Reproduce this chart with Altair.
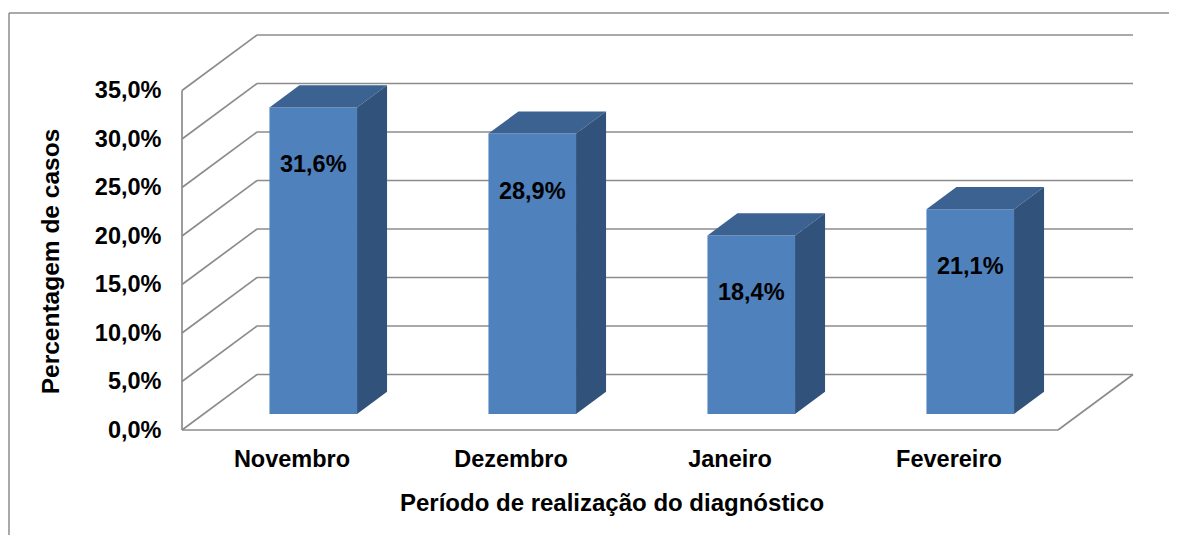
import json
import altair as alt
import pandas as pd

# ---------------- data ----------------
categories = ["Novembro", "Dezembro", "Janeiro", "Fevereiro"]
values = [31.6, 28.9, 18.4, 21.1]
y_ticks = [0, 5, 10, 15, 20, 25, 30, 35]
x_title = "Período de realização do diagnóstico"
y_title = "Percentagem de casos"

# ---------------- geometry of the pseudo-3D box ----------------
PX_CAT = 219.0        # pixels per category band (front plane)
PX_PCT = 9.7          # pixels per percentage point
DEPTH_PX_X = 75.0     # horizontal shift of the back wall
DEPTH_PX_Y = 55.5     # vertical shift of the back wall
Y_MAX = 35
N = len(categories)
DX = DEPTH_PX_X / PX_CAT
DY = DEPTH_PX_Y / PX_PCT
W = N * PX_CAT + DEPTH_PX_X
H = Y_MAX * PX_PCT + DEPTH_PX_Y
BAR_FRONT, BAR_BACK = 0.29, 0.69
BAR_PAD = 0.3

FONT = "Liberation Sans"
GRID = "#8C8C8C"
FRONT_C = "#4F81BD"
TOP_C = "#3C6291"
SIDE_C = "#31527A"

# ---------------- derived tables ----------------
seg = []
for t in y_ticks:
    seg.append(dict(x=DX, y=t + DY, x2=N + DX, y2=t + DY))   # back wall grid
    seg.append(dict(x=0, y=t, x2=DX, y2=t + DY))              # left wall diagonal
seg.append(dict(x=0, y=0, x2=0, y2=Y_MAX))                    # front vertical axis
seg.append(dict(x=0, y=0, x2=N, y2=0))                        # floor front edge
seg.append(dict(x=N, y=0, x2=N + DX, y2=DY))                  # floor right edge
seg_df = pd.DataFrame(seg)

front, top, side = [], [], []
ddx = (BAR_BACK - BAR_FRONT) * DX
ddy = (BAR_BACK - BAR_FRONT) * DY
for i, (c, v) in enumerate(zip(categories, values)):
    L = i + BAR_PAD + BAR_FRONT * DX
    R = i + 1 - BAR_PAD + BAR_FRONT * DX
    B = BAR_FRONT * DY
    T = v + B
    front.append(dict(cat=c, v=v, x=L, x2=R, y=B, y2=T, cx=(L + R) / 2))
    top += [dict(cat=c, x=L, y=T, y2=T),
            dict(cat=c, x=L + ddx, y=T + ddy, y2=T),
            dict(cat=c, x=R, y=T + ddy, y2=T),
            dict(cat=c, x=R + ddx, y=T + ddy, y2=T + ddy)]
    side += [dict(cat=c, x=R, y=T, y2=B),
             dict(cat=c, x=R + ddx, y=T + ddy, y2=B + ddy)]
front_df = pd.DataFrame(front)
top_df = pd.DataFrame(top)
side_df = pd.DataFrame(side)

# ---------------- scales & axes ----------------
xs = alt.Scale(domain=[0, N + DX], nice=False, zero=False)
ys = alt.Scale(domain=[0, Y_MAX + DY], nice=False, zero=False)

x_axis = alt.Axis(
    values=[i + 0.5 for i in range(N)],
    labelExpr=json.dumps(categories, ensure_ascii=False) + "[floor(datum.value)]",
    domain=False, ticks=False, tickSize=0, grid=False,
    labelFont=FONT, labelFontSize=23.5, labelFontWeight="bold", labelColor="black",
    labelPadding=29, labelBaseline="middle", labelOverlap=False, labelFlush=False,
    title=x_title, titleFont=FONT, titleFontSize=24, titleFontWeight="bold",
    titleColor="black", titleX=611.5 - 182, titleY=73, titleBaseline="middle",
    titleAlign="center",
)
y_axis = alt.Axis(
    values=y_ticks,
    labelExpr="replace(format(datum.value, '.1f'), '.', ',') + '%'",
    domain=False, ticks=False, tickSize=0, grid=False,
    labelFont=FONT, labelFontSize=23.5, labelFontWeight="bold", labelColor="black",
    labelPadding=21, labelOverlap=False, labelFlush=False,
    title=y_title, titleFont=FONT, titleFontSize=24.5, titleFontWeight="bold",
    titleColor="black", titleX=-131, titleY=226, titleBaseline="middle",
    titleAlign="center", titleAngle=270,
)

X = lambda f: alt.X(f, type="quantitative", scale=xs, axis=x_axis)
Y = lambda f: alt.Y(f, type="quantitative", scale=ys, axis=y_axis, stack=None)

walls = alt.Chart(seg_df).mark_rule(color=GRID, strokeWidth=1.7).encode(
    x=X("x"), y=Y("y"), x2="x2:Q", y2="y2:Q"
)

bars_front = alt.Chart(front_df).mark_rect(color=FRONT_C).encode(
    x=X("x"), x2="x2:Q", y=Y("y"), y2="y2:Q"
)
bars_top = alt.Chart(top_df).mark_area(color=TOP_C).encode(
    x=X("x"), y=Y("y"), y2="y2:Q", detail="cat:N"
)
bars_side = alt.Chart(side_df).mark_area(color=SIDE_C).encode(
    x=X("x"), y=Y("y"), y2="y2:Q", detail="cat:N"
)
labels = alt.Chart(front_df).transform_calculate(
    label="replace(format(datum.v, '.1f'), '.', ',') + '%'"
).mark_text(
    font=FONT, fontSize=23.5, fontWeight="bold", color="black",
    align="center", baseline="middle", dy=58
).encode(x=X("cx"), y=Y("y2"), text="label:N")

frame_src = pd.DataFrame({"k": [0]})
frame_top = alt.Chart(frame_src).mark_rule(color=GRID, strokeWidth=1.5).encode(
    x=alt.value(-173), x2=alt.value(987), y=alt.value(-22)
)
frame_left = alt.Chart(frame_src).mark_rule(color=GRID, strokeWidth=1.5).encode(
    x=alt.value(-173), y=alt.value(-22), y2=alt.value(500)
)

chart = alt.layer(
    walls, bars_front, bars_top, bars_side, labels, frame_top, frame_left
).properties(
    width=W, height=H,
    autosize=alt.AutoSizeParams(type="none"),
    padding={"left": 174, "top": 27, "right": 36, "bottom": 105},
    background="white",
).configure_view(strokeWidth=0)

chart.save("out.html", embed_options={"renderer": "svg", "actions": False})
